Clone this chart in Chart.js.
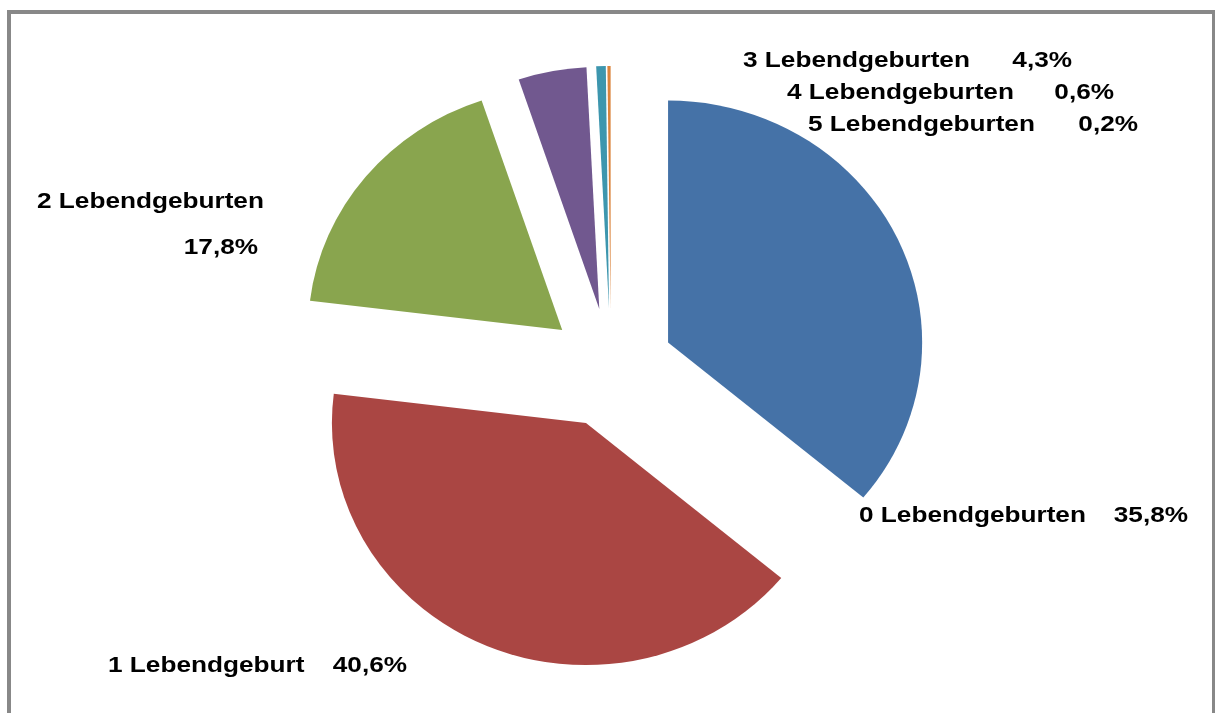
<!DOCTYPE html>
<html>
<head>
<meta charset="utf-8">
<script src="https://cdn.jsdelivr.net/npm/chart.js@4/dist/chart.umd.min.js"></script>
<style>
  html, body { margin: 0; padding: 0; background: #fff; overflow: hidden; }
  #frame {
    position: absolute; left: 7px; top: 10px;
    width: 1209px; height: 800px;
    box-sizing: border-box;
    border: 4px solid #888;
  }
  #pieChart { position: absolute; left: 0; top: 0; }
</style>
</head>
<body>
<div id="frame"></div>
<canvas id="pieChart" width="1215" height="713"></canvas>
<script>
// Anzahl Lebendgeburten - Anteile in %
var categories = ['0 Lebendgeburten', '1 Lebendgeburt', '2 Lebendgeburten',
                  '3 Lebendgeburten', '4 Lebendgeburten', '5 Lebendgeburten'];
var shares = [35.8, 40.6, 17.8, 4.3, 0.6, 0.2];

var sliceColors = ['#4572A7', '#AA4643', '#89A54E', '#71588F', '#3D96AE', '#DB843D'];

// where each label sits: [name x, name baseline, value right edge, value baseline]
var labelSpots = [
    [859, 522, 1188, 522],
    [108, 672, 407, 672],
    [37, 208, 258, 254],
    [743, 67, 1072, 67],
    [787, 99, 1114, 99],
    [808, 131, 1138, 131]
];

var EXPLODE = 60;      // distance each slice is pulled out
var X_STRETCH = 1.05;  // the pie is slightly wider than high
var TEXT_STRETCH = 1.19;

function fmt(v) {
    return v.toFixed(1).replace('.', ',') + '%';
}

// draw the slices ourselves so every one is pulled out by the same amount
var explodePlugin = {
    id: 'explode',
    beforeDatasetDraw: function(chart, args) {
        var ctx = chart.ctx;
        args.meta.data.forEach(function(arc) {
            var p = arc.getProps(['x', 'y', 'startAngle', 'endAngle', 'outerRadius'], true);
            var mid = (p.startAngle + p.endAngle) / 2;
            ctx.save();
            ctx.translate(p.x, p.y);
            ctx.scale(X_STRETCH, 1);
            ctx.translate(Math.cos(mid) * EXPLODE, Math.sin(mid) * EXPLODE);
            ctx.beginPath();
            ctx.moveTo(0, 0);
            ctx.arc(0, 0, p.outerRadius, p.startAngle, p.endAngle);
            ctx.closePath();
            ctx.fillStyle = arc.options.backgroundColor;
            ctx.fill();
            ctx.restore();
        });
        return false;
    }
};

var labelPlugin = {
    id: 'sliceLabels',
    afterDraw: function(chart) {
        var ctx = chart.ctx;
        var labels = chart.data.labels;
        var values = chart.data.datasets[0].data;
        ctx.save();
        ctx.fillStyle = '#000';
        ctx.font = 'bold 22px "Liberation Sans", Arial, sans-serif';
        ctx.textBaseline = 'alphabetic';
        labels.forEach(function(name, i) {
            var s = labelSpots[i];
            ctx.save();
            ctx.translate(s[0], s[1]);
            ctx.scale(TEXT_STRETCH, 1);
            ctx.textAlign = 'left';
            ctx.fillText(name, 0, 0);
            ctx.restore();
            ctx.save();
            ctx.translate(s[2], s[3]);
            ctx.scale(TEXT_STRETCH, 1);
            ctx.textAlign = 'right';
            ctx.fillText(fmt(values[i]), 0, 0);
            ctx.restore();
        });
        ctx.restore();
    }
};

var ctx = document.getElementById('pieChart').getContext('2d');

var myChart = new Chart(ctx, {
    type: 'pie',
    data: {
        labels: categories,
        datasets: [{
            data: shares,
            backgroundColor: sliceColors,
            borderWidth: 0
        }]
    },
    options: {
        responsive: false,
        animation: false,
        radius: 242,
        layout: { padding: { left: 7, right: 0, top: 23, bottom: 0 } },
        plugins: {
            legend: { display: false },
            tooltip: { enabled: false }
        }
    },
    plugins: [explodePlugin, labelPlugin]
});
</script>
</body>
</html>
